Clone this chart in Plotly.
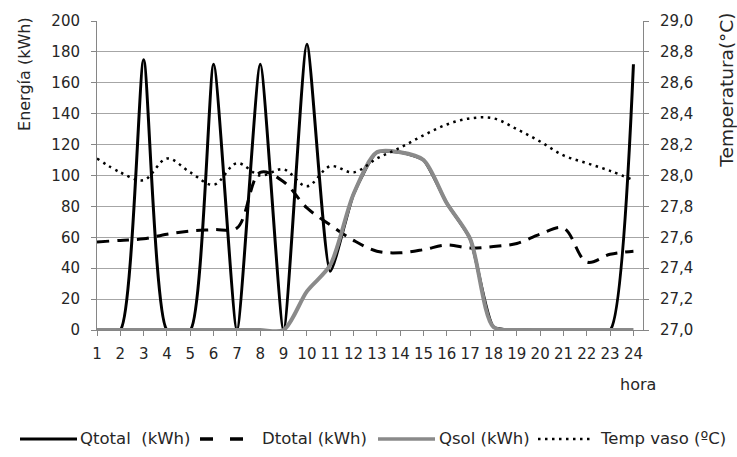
import plotly.graph_objects as go

# Hourly energy balance and pool water temperature
hours = list(range(1, 25))
q_total = [0, 0, 175, 0, 0, 172, 0, 172, 0, 185, 38, 88, 115, 115, 110, 82, 59, 2, 0, 0, 0, 0, 0, 172]
d_total = [57, 58, 59, 62, 64, 65, 66, 102, 96, 79, 68, 58, 51, 50, 52, 55, 53, 54, 56, 62, 66, 44, 49, 51]
q_sol = [0, 0, 0, 0, 0, 0, 0, 0, 0, 25, 42, 88, 115, 115, 110, 82, 59, 2, 0, 0, 0, 0, 0, 0]
temp_vaso = [28.11, 28.02, 27.97, 28.11, 28.02, 27.94, 28.08, 28.00, 28.04, 27.93, 28.06, 28.02,
             28.11, 28.18, 28.26, 28.33, 28.37, 28.37, 28.30, 28.22, 28.13, 28.08, 28.03, 27.97]
hour_labels = [str(h) for h in hours]

series_names = ["Qtotal  (kWh)", "Dtotal (kWh)", "Qsol (kWh)", "Temp vaso (ºC)"]

FONT = "DejaVu Sans"
GRID = "#a6a6a6"
AXIS = "#868686"
TXT = "#262626"
GREY = "#8a8a8a"

styles = [
    dict(color="black", width=3, smoothing=0.55),
    dict(color="black", width=3, dash="12px,8px", smoothing=1),
    dict(color=GREY, width=4, smoothing=0.8),
    dict(color="black", width=2.5, dash="2.5px,4.5px", smoothing=1),
]

fig = go.Figure()
for name, ys, st, ax in zip(series_names, [q_total, d_total, q_sol, temp_vaso], styles,
                            ["y", "y", "y", "y2"]):
    fig.add_trace(go.Scatter(x=hours, y=ys, name=name, mode="lines", yaxis=ax,
                             line=dict(shape="spline", **st)))

# plot area in pixels: x 97..643, y 15..330
L, R, T, B = 97, 94, 15, 127
W, H = 737, 457
pw, ph = W - L - R, H - T - B


def px(x):
    return (x - L) / pw


def py(y):
    return (H - B - y) / ph


TICKFONT = dict(size=15, color=TXT)

fig.update_layout(
    width=W, height=H,
    margin=dict(l=L, r=R, t=T, b=B),
    paper_bgcolor="white", plot_bgcolor="white",
    separators=",.",
    font=dict(family=FONT, size=15, color=TXT),
    showlegend=False,
    xaxis=dict(range=[1, 24.41], tickmode="array", tickvals=hours, ticktext=hour_labels,
               showgrid=False, zeroline=False, showline=True, linecolor=AXIS, linewidth=1,
               ticks="outside", ticklen=5, tickcolor=AXIS, tickfont=TICKFONT,
               ticklabelstandoff=5),
    yaxis=dict(range=[0, 200], dtick=20, showgrid=True, gridcolor=GRID, gridwidth=1,
               zeroline=False, showline=True, linecolor=AXIS, linewidth=1,
               ticks="outside", ticklen=5, tickcolor=AXIS, tickfont=TICKFONT,
               ticklabelstandoff=8),
    yaxis2=dict(range=[27, 29], dtick=0.2, tickformat=".1f", overlaying="y", side="right",
                showgrid=False, zeroline=False, showline=True, linecolor=AXIS, linewidth=1,
                ticks="outside", ticklen=5, tickcolor=AXIS, tickfont=TICKFONT,
                ticklabelstandoff=8),
)

# axis titles
fig.add_annotation(text="Energía (kWh)", x=px(25), y=py(69), xref="paper", yref="paper",
                   xanchor="center", yanchor="middle",
                   textangle=-90, showarrow=False, font=dict(size=16, color=TXT))
fig.add_annotation(text="Temperatura(°C)", x=px(727), y=py(86), xref="paper", yref="paper",
                   xanchor="center", yanchor="middle",
                   textangle=-90, showarrow=False, font=dict(size=18.5, color=TXT))
fig.add_annotation(text="hora", x=px(638), y=py(386), xref="paper", yref="paper",
                   xanchor="center", yanchor="middle",
                   showarrow=False, font=dict(size=16, color=TXT))

# legend row along the bottom
legend_y = 441
legend_items = [  # (symbol start, symbol end, text start)
    (20, 77, 78),
    (200, 243, 260),
    (378, 435, 437),
    (538, 590, 598),
]
legend_lines = [
    dict(color="black", width=3),
    dict(color="black", width=3.5, dash="13px,17px"),
    dict(color=GREY, width=3.5),
    dict(color="black", width=2.5, dash="2.5px,4.5px"),
]
for name, (x0, x1, xt), ln in zip(series_names, legend_items, legend_lines):
    fig.add_shape(type="line", xref="paper", yref="paper",
                  x0=px(x0), x1=px(x1), y0=py(legend_y), y1=py(legend_y), line=ln)
    fig.add_annotation(text=name, x=px(xt), y=py(legend_y), xref="paper", yref="paper",
                       xanchor="left", yanchor="middle", showarrow=False,
                       font=dict(size=16.5, color=TXT))

fig.write_html("out.html")
